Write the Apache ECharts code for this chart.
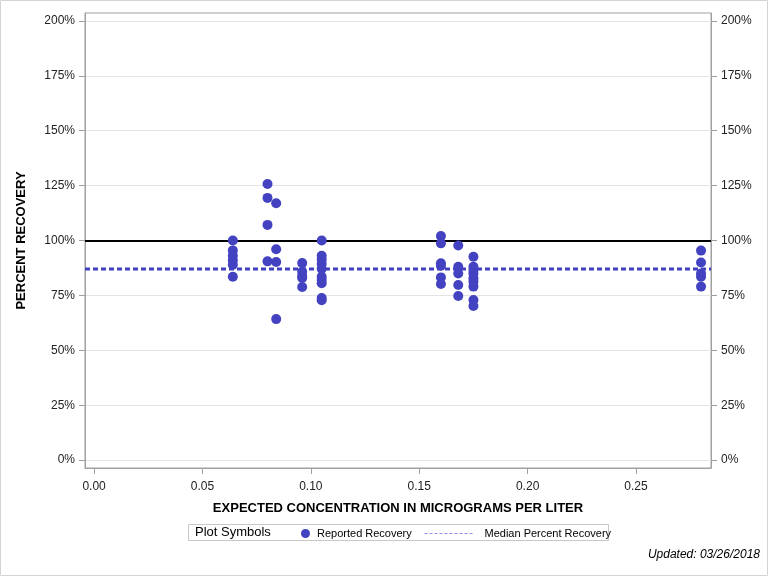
<!DOCTYPE html>
<html><head><meta charset="utf-8">
<script src="https://cdn.jsdelivr.net/npm/echarts@6/dist/echarts.min.js"></script>
<style>html,body{margin:0;padding:0;background:#fff}#c{width:768px;height:576px}</style>
</head><body><div id="c"></div>
<script>
var concentration = [0.064,0.064,0.064,0.064,0.064,0.064,
  0.080,0.080,0.080,0.080,
  0.084,0.084,0.084,0.084,
  0.096,0.096,0.096,0.096,0.096,
  0.105,0.105,0.105,0.105,0.105,0.105,0.105,0.105,0.105,0.105,
  0.160,0.160,0.160,0.160,0.160,0.160,
  0.168,0.168,0.168,0.168,0.168,
  0.175,0.175,0.175,0.175,0.175,0.175,0.175,0.175,0.175,
  0.280,0.280,0.280,0.280,0.280];
var recovery = [100,95.5,93,91,89,83.5,
  125.7,119.4,107.1,90.5,
  117,96,90.2,64.2,
  89.7,85.8,83.8,82.9,78.8,
  100,93,91.4,89.3,87.1,83.5,82,80.5,73.8,72.8,
  102,98.7,89.6,88.5,83.2,80.2,
  97.7,88,85,79.7,74.7,
  92.6,88,86.6,85,82.8,81.2,79,72.9,70.2,
  95.4,90,85,83.5,79];
var medianRecovery = 87;
var referenceRecovery = 100;
var xTicks = [0,0.05,0.10,0.15,0.20,0.25];
var yTicks = [0,25,50,75,100,125,150,175,200];
var xMin = -0.0042, xMax = 0.2846, yMin = -3.6, yMax = 203.6;

var pts = concentration.map(function(c,i){return [c, recovery[i]];});
var font = 'Arial, "Liberation Sans", sans-serif';
var chart = echarts.init(document.getElementById('c'), null, {renderer:'canvas'});
function yAxisDef(pos){
  return {type:'value', position:pos, min:yMin, max:yMax,
    axisLine:{show:true, onZero:false, lineStyle:{color:'#a0a0a0'}},
    axisTick:{show:true, length:6, lineStyle:{color:'#a0a0a0'}, customValues:yTicks},
    axisLabel:{customValues:yTicks, color:'#222', fontFamily:font, fontSize:12, margin:10,
      formatter:function(v){return Math.round(v)+'%';}},
    splitLine:{show: pos==='left', lineStyle:{color:'#e4e4e4'}}
  };
}
chart.setOption({
  animation:false,
  grid:{left:85, right:57, top:13, bottom:108, show:true, borderColor:'#a0a0a0', borderWidth:1},
  xAxis:{type:'value', min:xMin, max:xMax,
    name:'EXPECTED CONCENTRATION IN MICROGRAMS PER LITER', nameLocation:'middle', nameGap:34,
    nameTextStyle:{fontFamily:font, fontSize:13, fontWeight:'bold', color:'#000'},
    axisLine:{show:true, onZero:false, lineStyle:{color:'#a0a0a0'}},
    axisTick:{show:true, length:6, lineStyle:{color:'#a0a0a0'}, customValues:xTicks},
    axisLabel:{customValues:xTicks, color:'#222', fontFamily:font, fontSize:12, margin:13,
      formatter:function(v){return v.toFixed(2);}},
    splitLine:{show:false}
  },
  yAxis:[
    Object.assign(yAxisDef('left'), {name:'PERCENT RECOVERY', nameLocation:'middle', nameGap:57,
      nameTextStyle:{fontFamily:font, fontSize:13, fontWeight:'bold', color:'#000'}}),
    yAxisDef('right')
  ],
  legend:[
    {left:296, top:523, itemHeight:9, itemWidth:9, itemGap:0,
      textStyle:{fontFamily:font, fontSize:11, color:'#000', padding:[0,0,0,2]},
      data:[{name:'Reported Recovery', icon:'circle', itemStyle:{color:'#4343c2'}}]},
    {left:419, top:523, itemHeight:9, itemWidth:48, itemGap:0,
      textStyle:{fontFamily:font, fontSize:11, color:'#000', padding:[0,0,0,7]},
      data:[{name:'Median Percent Recovery',
        itemStyle:{color:'rgba(0,0,0,0)', borderWidth:0, opacity:0},
        lineStyle:{color:'#8c8ce6', width:1, type:[3,2]}}]}
  ],
  graphic:[
    {type:'rect', shape:{x:0.5,y:0.5,width:767,height:575}, style:{fill:'none', stroke:'#d4d4d4', lineWidth:1}, silent:true},
    {type:'rect', shape:{x:188.5,y:524.5,width:420,height:16}, style:{fill:'none', stroke:'#c8c8c8', lineWidth:1}, silent:true},
    {type:'text', left:195, top:526, style:{text:'Plot Symbols', font:'13px '+font, fill:'#000'}},
    {type:'text', right:8, top:549, style:{text:'Updated: 03/26/2018', font:'italic 12px '+font, fill:'#000'}}
  ],
  series:[
    {name:'Reported Recovery', type:'scatter', data:pts, symbol:'circle', symbolSize:10,
      itemStyle:{color:'#4343c2', opacity:1}, z:5,
      markLine:{silent:true, symbol:'none', label:{show:false},
        lineStyle:{color:'#000', width:2, type:'solid'},
        data:[{yAxis:referenceRecovery}]}},
    {name:'Median Percent Recovery', type:'line', data:[[xMin,medianRecovery],[xMax,medianRecovery]],
      symbol:'none', lineStyle:{color:'#4040c0', width:3, type:[5,3]}, z:4}
  ]
});
</script></body></html>
